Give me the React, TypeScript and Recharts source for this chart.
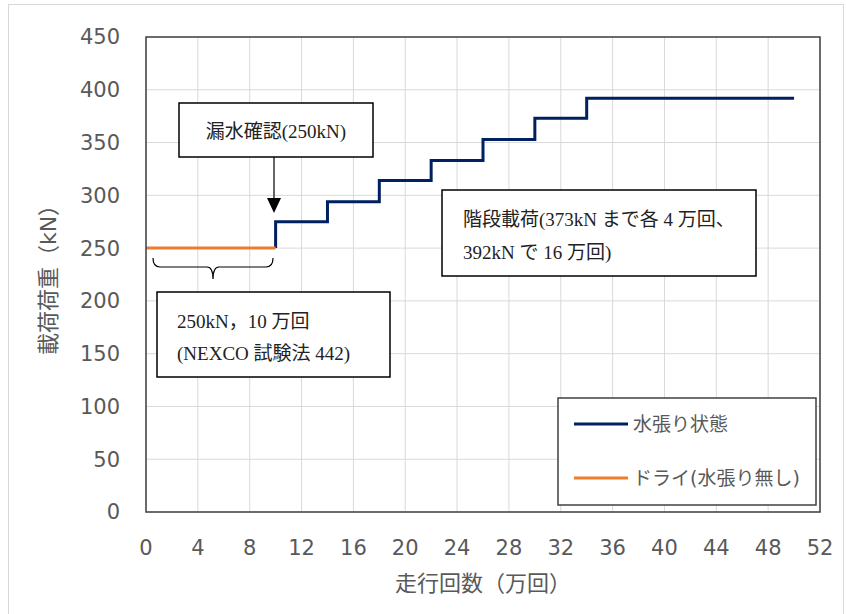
import React from 'react';
import { LineChart, Line, XAxis, YAxis, CartesianGrid } from 'recharts';

// 走行回数 (万回) and 載荷荷重 (kN)
const waterCycles = [10, 10, 14, 18, 22, 26, 30, 34, 50];
const waterLoads = [250, 275, 294, 314, 333, 353, 373, 392, 392];
const dryCycles = [0, 10];
const dryLoads = [250, 250];

const xTicks = [0, 4, 8, 12, 16, 20, 24, 28, 32, 36, 40, 44, 48, 52];
const yTicks = [0, 50, 100, 150, 200, 250, 300, 350, 400, 450];

const waterName = '水張り状態';
const dryName = 'ドライ(水張り無し)';
const WATER_COLOR = '#002060';
const DRY_COLOR = '#ED7D31';

const waterData = waterCycles.map((x, i) => ({ x, y: waterLoads[i] }));
const dryData = dryCycles.map((x, i) => ({ x, y: dryLoads[i] }));

const legendItems = [
  { name: waterName, color: WATER_COLOR },
  { name: dryName, color: DRY_COLOR },
];

const SANS = "'DejaVu Sans', 'Noto Sans CJK JP', sans-serif";
const SERIF = "'Liberation Serif', 'Noto Sans CJK JP', serif";
const GRAY = '#595959';

export default function App() {
  return (
    <div style={{ position: 'absolute', left: 0, top: 0, width: 846, height: 614, background: '#fff' }}>
      <div style={{ position: 'absolute', left: 8, top: 4, width: 836, height: 612, border: '1px solid #d9d9d9', boxSizing: 'border-box' }} />
      <LineChart width={846} height={614} margin={{ top: 37, right: 26, bottom: 42, left: 0 }}>
        <CartesianGrid stroke="#d9d9d9" strokeWidth={1} />
        <XAxis
          type="number"
          dataKey="x"
          domain={[0, 52]}
          ticks={xTicks}
          interval={0}
          axisLine={false}
          tickLine={false}
          tickMargin={22}
          height={60}
          tick={{ fill: GRAY, fontSize: 21, fontFamily: SANS }}
        />
        <YAxis
          type="number"
          dataKey="y"
          domain={[0, 450]}
          ticks={yTicks}
          interval={0}
          axisLine={false}
          tickLine={false}
          tickMargin={20}
          width={146}
          tick={{ fill: GRAY, fontSize: 21, fontFamily: SANS }}
        />
        <Line data={waterData} dataKey="y" name={waterName} type="stepAfter" stroke={WATER_COLOR} strokeWidth={3} dot={false} isAnimationActive={false} />
        <Line data={dryData} dataKey="y" name={dryName} type="linear" stroke={DRY_COLOR} strokeWidth={3} dot={false} isAnimationActive={false} />
      </LineChart>
      <svg width={846} height={614} style={{ position: 'absolute', left: 0, top: 0, pointerEvents: 'none' }}>
        <rect x={146} y={37} width={674} height={475} fill="none" stroke="#404040" strokeWidth={1.5} />
        <text x={48} y={274.5} transform="rotate(-90 48 274.5)" textAnchor="middle" dominantBaseline="central" fill={GRAY} fontSize={22} fontFamily={SANS}>載荷荷重（kN）</text>
        <text x={483} y={583} textAnchor="middle" dominantBaseline="central" fill={GRAY} fontSize={22} fontFamily={SANS}>走行回数（万回）</text>

        {/* legend */}
        <rect x={558} y={398} width={258} height={107} fill="#fff" stroke="#404040" strokeWidth={1.5} />
        {legendItems.map((it, i) => (
          <g key={it.name}>
            <line x1={574} x2={628} y1={424 + i * 54} y2={424 + i * 54} stroke={it.color} strokeWidth={3} />
            <text x={633} y={424 + i * 54} dominantBaseline="central" fontSize={19} fontFamily={SANS} fill={GRAY}>{it.name}</text>
          </g>
        ))}

        {/* 漏水確認 */}
        <rect x={179} y={103} width={194} height={54} fill="#fff" stroke="#000" strokeWidth={1.5} />
        <text x={276} y={131} textAnchor="middle" dominantBaseline="central" fontSize={19} fontFamily={SERIF} fill="#222">漏水確認(250kN)</text>
        <line x1={274} y1={157} x2={274} y2={200} stroke="#000" strokeWidth={1.2} />
        <polygon points="267,198 281,198 274,213" fill="#000" />

        {/* 階段載荷 */}
        <rect x={442} y={190} width={314} height={86} fill="#fff" stroke="#000" strokeWidth={1.5} />
        <text x={463} y={219} dominantBaseline="central" fontSize={19} fontFamily={SERIF} fill="#222">階段載荷(373kN まで各 4 万回、</text>
        <text x={463} y={252} dominantBaseline="central" fontSize={19} fontFamily={SERIF} fill="#222">392kN で 16 万回)</text>

        {/* brace */}
        <path d="M153,258 Q153,267 160,267 L207,267 Q213,267 213,279 Q213,267 219,267 L266,267 Q273,267 273,258" fill="none" stroke="#000" strokeWidth={1.2} />

        {/* 250kN 10万回 */}
        <rect x={157} y={292} width={233} height={85} fill="#fff" stroke="#000" strokeWidth={1.5} />
        <text x={177} y={321} dominantBaseline="central" fontSize={19} fontFamily={SERIF} fill="#222">250kN，10 万回</text>
        <text x={177} y={353} dominantBaseline="central" fontSize={19} fontFamily={SERIF} fill="#222">(NEXCO 試験法 442)</text>
      </svg>
    </div>
  );
}
